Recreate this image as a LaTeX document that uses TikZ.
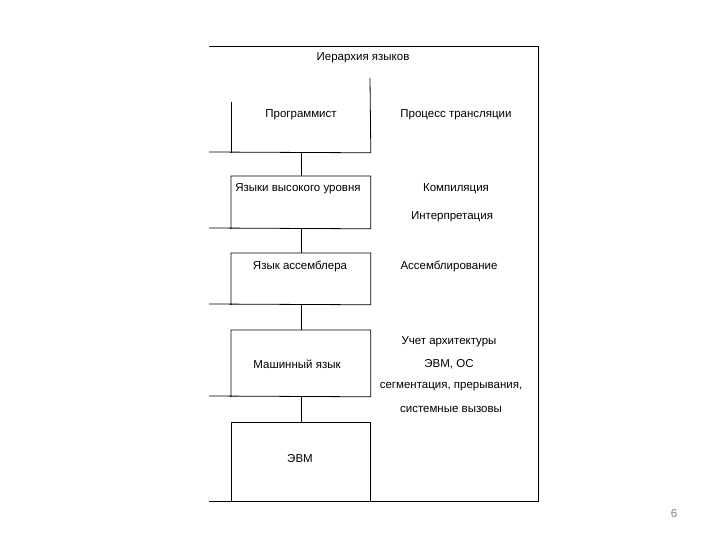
\documentclass[tikz,border=0pt]{standalone}
\usepackage{fontspec}
\setmainfont{Liberation Sans}
\begin{document}
\begin{tikzpicture}[x=1pt,y=-1pt,line width=0.8pt,line join=miter,
  lbl/.style={font=\fontsize{11.5}{13}\selectfont, inner sep=0pt, anchor=center},
  boxarea/.style={draw=none, inner sep=0pt, minimum width=139pt, anchor=north west}]
\useasboundingbox (0,0) rectangle (720,540);
% box areas
\node[boxarea, minimum height=50pt] (b1) at (231,102) {};
\node[boxarea, minimum height=52pt] (b2) at (231,176) {};
\node[boxarea, minimum height=51pt] (b3) at (231,253) {};
\node[boxarea, minimum height=66pt] (b4) at (231,330) {};
\node[boxarea, minimum height=79pt] (b5) at (231,422) {};
\coordinate (tl) at (209,46);
\coordinate (tr) at (538,46);
\coordinate (br) at (538,501);
\coordinate (bl) at (209,501);
\coordinate (p1) at (370,78);
\coordinate (l1) at (209,152);
\coordinate (l2) at (209,228);
\coordinate (l3) at (209,304);
\coordinate (l4) at (209,396);
% outer frame
\draw (tl) -- (tr) -- (br) -- (bl);
% box 1
\draw (b1.north west) -- (b1.south west);
\draw (l1) -- (b1.south east) -- (p1);
% boxes 2-4
\draw (l2) -- (b2.south east) -- (b2.north east) -- (b2.north west) -- (b2.south west);
\draw (l3) -- (b3.south east) -- (b3.north east) -- (b3.north west) -- (b3.south west);
\draw (l4) -- (b4.south east) -- (b4.north east) -- (b4.north west) -- (b4.south west);
% box 5
\draw (b5.south west) -- (b5.north west) -- (b5.north east) -- (b5.south east);
% connectors
\draw (b1.south) -- (b2.north);
\draw (b2.south) -- (b3.north);
\draw (b3.south) -- (b4.north);
\draw (b4.south) -- (b5.north);
% texts
\node[lbl] (t0) at (363,58) {Иерархия языков};
\node[lbl] (t1) at (301,115) {Программист};
\node[lbl] (t2) at (456,115) {Процесс трансляции};
\node[lbl] (t3) at (298,189) {Языки высокого уровня};
\node[lbl] (t4) at (456,189) {Компиляция};
\node[lbl] (t5) at (452,217) {Интерпретация};
\node[lbl] (t6) at (300,266) {Язык ассемблера};
\node[lbl] (t7) at (449,266) {Ассемблирование};
\node[lbl] (t8) at (297,364) {Машинный язык};
\node[lbl] (t9) at (449,342) {Учет архитектуры};
\node[lbl] (t10) at (449,364) {ЭВМ, ОС};
\node[lbl] (t11) at (451,387) {сегментация, прерывания,};
\node[lbl] (t12) at (451,409) {системные вызовы};
\node[lbl] (t13) at (300,459) {ЭВМ};
\node[lbl, text=gray] (pg) at (674,514) {6};
\end{tikzpicture}
\end{document}
